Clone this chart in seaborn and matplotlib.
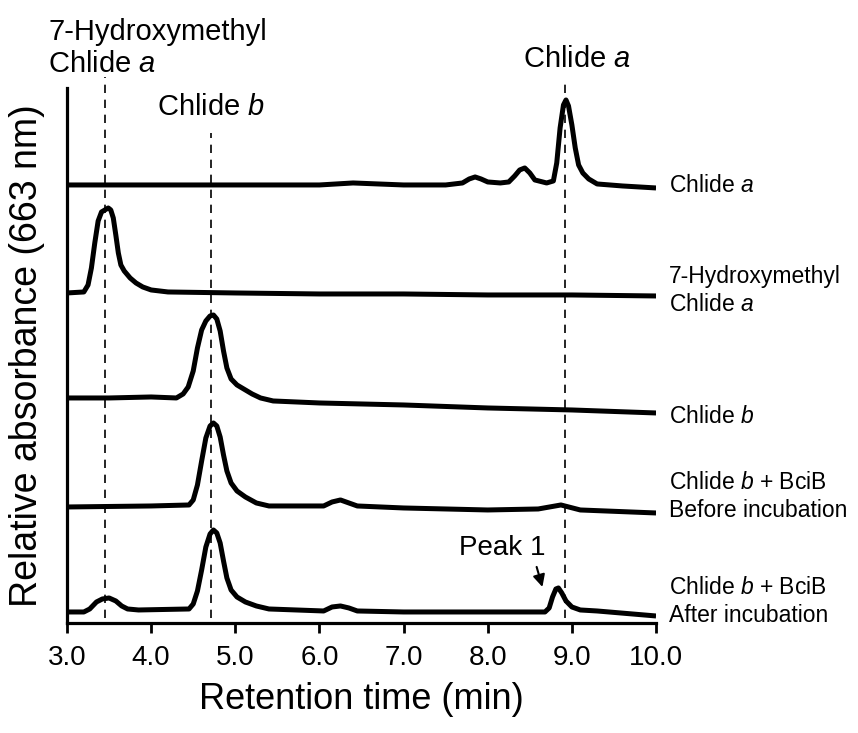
import matplotlib
matplotlib.use("Agg")
import matplotlib.pyplot as plt
import seaborn as sns
import numpy as np
import pandas as pd

# traces (retention time, relative absorbance)
chlide_a_t = [3.0, 4.0, 5.0, 6.0, 6.4, 7.0, 7.5, 7.7, 7.78, 7.85, 7.92, 8.0, 8.15, 8.25, 8.32,
              8.38, 8.44, 8.5, 8.56, 8.7, 8.78, 8.82, 8.86, 8.9, 8.93, 8.96, 9.0, 9.04, 9.08,
              9.13, 9.2, 9.3, 9.6, 10.0]
chlide_a_y = [4.38, 4.38, 4.38, 4.38, 4.40, 4.38, 4.38, 4.40, 4.44, 4.46, 4.44, 4.41, 4.40, 4.41,
              4.47, 4.53, 4.55, 4.50, 4.43, 4.40, 4.42, 4.60, 4.95, 5.18, 5.23, 5.17, 4.98, 4.75,
              4.58, 4.50, 4.44, 4.39, 4.37, 4.35]

hm_t = [3.0, 3.2, 3.25, 3.29, 3.33, 3.37, 3.41, 3.45, 3.49, 3.52, 3.55, 3.58, 3.61, 3.64, 3.68,
        3.75, 3.82, 3.9, 4.0, 4.2, 5.0, 6.0, 7.0, 8.0, 9.0, 10.0]
hm_y = [3.30, 3.31, 3.38, 3.55, 3.80, 4.02, 4.11, 4.13, 4.15, 4.13, 4.05, 3.88, 3.70, 3.58, 3.52,
        3.45, 3.40, 3.36, 3.33, 3.31, 3.30, 3.29, 3.29, 3.28, 3.28, 3.27]

chlide_b_t = [3.0, 3.5, 4.0, 4.3, 4.38, 4.44, 4.5, 4.55, 4.6, 4.65, 4.7, 4.74, 4.78, 4.82, 4.86,
              4.9, 4.95, 5.02, 5.1, 5.2, 5.3, 5.45, 6.0, 7.0, 8.0, 9.0, 10.0]
chlide_b_y = [2.25, 2.25, 2.26, 2.25, 2.29, 2.36, 2.52, 2.75, 2.93, 3.02, 3.07, 3.08, 3.04, 2.92,
              2.72, 2.55, 2.44, 2.38, 2.34, 2.29, 2.25, 2.22, 2.20, 2.18, 2.15, 2.13, 2.10]

before_t = [3.0, 4.0, 4.45, 4.5, 4.55, 4.6, 4.65, 4.7, 4.74, 4.78, 4.82, 4.86, 4.9, 4.95, 5.02,
            5.12, 5.25, 5.4, 6.05, 6.15, 6.25, 6.35, 6.45, 7.0, 8.0, 8.6, 8.87, 9.1, 10.0]
before_y = [1.16, 1.17, 1.18, 1.23, 1.38, 1.62, 1.85, 1.97, 2.00, 1.97, 1.86, 1.68, 1.52, 1.40,
            1.32, 1.26, 1.20, 1.17, 1.17, 1.21, 1.23, 1.20, 1.17, 1.15, 1.13, 1.14, 1.18, 1.13, 1.10]

after_t = [3.0, 3.2, 3.27, 3.35, 3.42, 3.5, 3.58, 3.65, 3.72, 3.85, 4.45, 4.5, 4.55, 4.6, 4.65,
           4.7, 4.74, 4.78, 4.82, 4.86, 4.9, 4.95, 5.02, 5.12, 5.25, 5.4, 6.05, 6.15, 6.25, 6.35,
           6.45, 7.0, 8.0, 8.68, 8.73, 8.77, 8.81, 8.84, 8.88, 8.93, 9.0, 9.1, 9.3, 10.0]
after_y = [0.11, 0.11, 0.14, 0.21, 0.24, 0.25, 0.22, 0.17, 0.14, 0.13, 0.14, 0.19, 0.32, 0.53,
           0.76, 0.89, 0.93, 0.90, 0.80, 0.62, 0.45, 0.33, 0.26, 0.21, 0.17, 0.14, 0.12, 0.16,
           0.17, 0.15, 0.12, 0.11, 0.11, 0.11, 0.15, 0.26, 0.34, 0.35, 0.30, 0.22, 0.16, 0.13,
           0.12, 0.07]

trace_names = ["Chlide a", "7-HM Chlide a", "Chlide b", "Before", "After"]
trace_t = [chlide_a_t, hm_t, chlide_b_t, before_t, after_t]
trace_y = [chlide_a_y, hm_y, chlide_b_y, before_y, after_y]

# right-hand trace labels (mathtext for the italic letters)
trace_labels = [r"Chlide $\mathit{a}$",
                "7-Hydroxymethyl\n" + r"Chlide $\mathit{a}$",
                r"Chlide $\mathit{b}$",
                r"Chlide $\mathit{b}$ + BciB" + "\nBefore incubation",
                r"Chlide $\mathit{b}$ + BciB" + "\nAfter incubation"]
label_y = [4.31, 3.12, 2.00, 1.06, 0.01]

# reference peaks (dashed lines) and their labels
peak_times = [3.45, 4.71, 8.92]
peak_tops = [5.46, 4.90, 5.45]
peak_names = ["7-Hydroxymethyl\n" + r"Chlide $\mathit{a}$", r"Chlide $\mathit{b}$", r"Chlide $\mathit{a}$"]

rows = []
for name, t, y in zip(trace_names, trace_t, trace_y):
    for a, b in zip(t, y):
        rows.append({"trace": name, "time": a, "abs": b})
df = pd.DataFrame(rows)

sns.set_style("ticks")
plt.rcParams['font.family'] = ['Liberation Sans', 'DejaVu Sans']
plt.rcParams['mathtext.fontset'] = 'custom'
plt.rcParams['mathtext.it'] = 'Liberation Sans:italic'
plt.rcParams['mathtext.rm'] = 'Liberation Sans'
for k in ['text.color', 'axes.labelcolor', 'xtick.color', 'ytick.color', 'axes.edgecolor']:
    plt.rcParams[k] = 'black'

fig = plt.figure(figsize=(8.58, 7.33), dpi=100)
ax = fig.add_axes([0.0781, 0.1501, 0.6865, 0.7299])

sns.lineplot(data=df, x="time", y="abs", hue="trace", palette=["black"] * 5,
             linewidth=3.6, legend=False, ax=ax, sort=False, estimator=None,
             solid_joinstyle="round", solid_capstyle="butt")

for t, top in zip(peak_times, peak_tops):
    ax.plot([t, t], [0.05, top], color="black", lw=1.2, ls=(0, (5, 4)), clip_on=False, zorder=1)

ax.set_xlim(3, 10)
ax.set_ylim(0, 5.35)
ax.set_xticks(np.arange(3, 10.5, 1.0))
ax.set_xticklabels([f"{v:.1f}" for v in np.arange(3, 10.5, 1.0)], fontsize=20)
ax.set_yticks([])
ax.tick_params(axis="x", length=7, width=2, pad=9)
for s in ["top", "right"]:
    ax.spines[s].set_visible(False)
for s in ["left", "bottom"]:
    ax.spines[s].set_linewidth(2.3)

ax.set_xlabel("Retention time (min)", fontsize=26, labelpad=8)
ax.set_ylabel("Relative absorbance (663 nm)", fontsize=27, labelpad=16)

for lab, y in zip(trace_labels, label_y):
    ax.text(10.15, y, lab, fontsize=16.5, va="baseline", ha="left", linespacing=1.25, clip_on=False)

# top peak labels
ax.text(2.78, 5.51, peak_names[0], fontsize=21, ha="left", va="baseline", linespacing=1.2)
ax.text(4.07, 5.08, peak_names[1], fontsize=21, ha="left", va="baseline")
ax.text(8.42, 5.56, peak_names[2], fontsize=21, ha="left", va="baseline")

ax.annotate("Peak 1", xy=(8.65, 0.36), xytext=(8.17, 0.68), fontsize=20, ha="center",
            va="baseline",
            arrowprops=dict(arrowstyle="-|>", color="black", lw=1.5, mutation_scale=18,
                            shrinkA=2, shrinkB=0, relpos=(0.88, 0)))

fig.savefig("out.png", dpi=100)
